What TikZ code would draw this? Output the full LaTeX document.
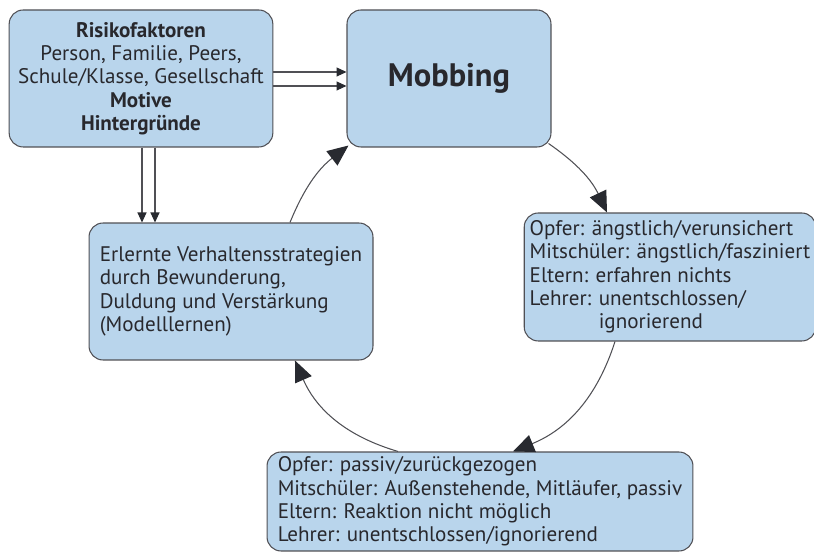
\documentclass[tikz,border=0pt]{standalone}
\usepackage{fontspec}
\setmainfont{PT Sans}
\usetikzlibrary{arrows.meta,calc,positioning}
\definecolor{boxblue}{RGB}{185,213,236}
\definecolor{linegray}{RGB}{80,80,85}
\definecolor{tipgray}{RGB}{40,42,48}
\definecolor{txtgray}{RGB}{40,40,45}

\begin{document}
\begin{tikzpicture}[
        x=0.02cm, y=0.02cm,
        font=\fontsize{12}{13.3}\selectfont,
        box/.style = {draw=linegray, fill=boxblue, rounded corners=0.28cm, line width=0.6pt, text=txtgray, inner xsep=0.18cm, inner ysep=0pt},
        bigtip/.style = {-{Triangle[length=0.42cm,width=0.36cm,color=tipgray]}, linegray, line width=0.6pt},
        smalltip/.style = {-{Triangle[length=0.2cm,width=0.18cm,color=tipgray]}, linegray, line width=0.6pt}]

    \useasboundingbox (0,0) rectangle (814,553);

    % boxes
    \node[box, minimum width=5.24cm, minimum height=2.74cm, align=center] (risk) at (141,474.5)
        {\textbf{Risikofaktoren}\\Person, Familie, Peers,\\Schule/Klasse, Gesellschaft\\\textbf{Motive}\\\textbf{Hintergründe}};
    \node[box, minimum width=4.08cm, minimum height=2.74cm, font=\fontsize{18.5}{20}\selectfont\bfseries] (mob) at (449,474.5) {Mobbing};
    \node[box, minimum width=5.68cm, minimum height=2.56cm, inner xsep=0.11cm, align=left] (feel) at (670,276)
        {Opfer: ängstlich/verunsichert\\Mitschüler: ängstlich/fasziniert\\Eltern: erfahren nichts\\Lehrer: unentschlossen/\\\phantom{Lehrer: }ignorierend};
    \node[box, minimum width=8.52cm, minimum height=1.98cm, align=left] (react) at (480,51.5)
        {Opfer: passiv/zurückgezogen\\Mitschüler: Außenstehende, Mitläufer, passiv\\Eltern: Reaktion nicht möglich\\Lehrer: unentschlossen/ignorierend};
    \node[box, minimum width=5.68cm, minimum height=2.74cm, align=left] (learn) at (231,261.5)
        {Erlernte Verhaltensstrategien\\durch Bewunderung,\\Duldung und Verstärkung\\(Modelllernen)};

    % double arrows
    \draw[smalltip] ([yshift=0.13cm]risk.east) -- ([yshift=0.13cm]mob.west);
    \draw[smalltip] ([yshift=-0.15cm]risk.east) -- ([yshift=-0.15cm]mob.west);
    \coordinate (d1) at ([xshift=0.02cm]risk.south);
    \coordinate (d2) at ([xshift=0.28cm]risk.south);
    \draw[smalltip] (d1) -- (d1 |- learn.north);
    \draw[smalltip] (d2) -- (d2 |- learn.north);

    % cycle
    \draw[bigtip] ([xshift=-0.06cm,yshift=0.08cm]mob.south east) to[bend left=15] ([xshift=-1.26cm]feel.north);
    \draw[bigtip] ([xshift=-1.1cm]feel.south) to[bend left=25] ([xshift=0.66cm]react.north);
    \draw[bigtip] ([xshift=-1.64cm]react.north) to[bend left=25] ([xshift=1.28cm]learn.south);
    \draw[bigtip] ([xshift=1.18cm]learn.north) to[bend left=15] ([xshift=0.04cm,yshift=0.04cm]mob.south west);

\end{tikzpicture}
\end{document}
